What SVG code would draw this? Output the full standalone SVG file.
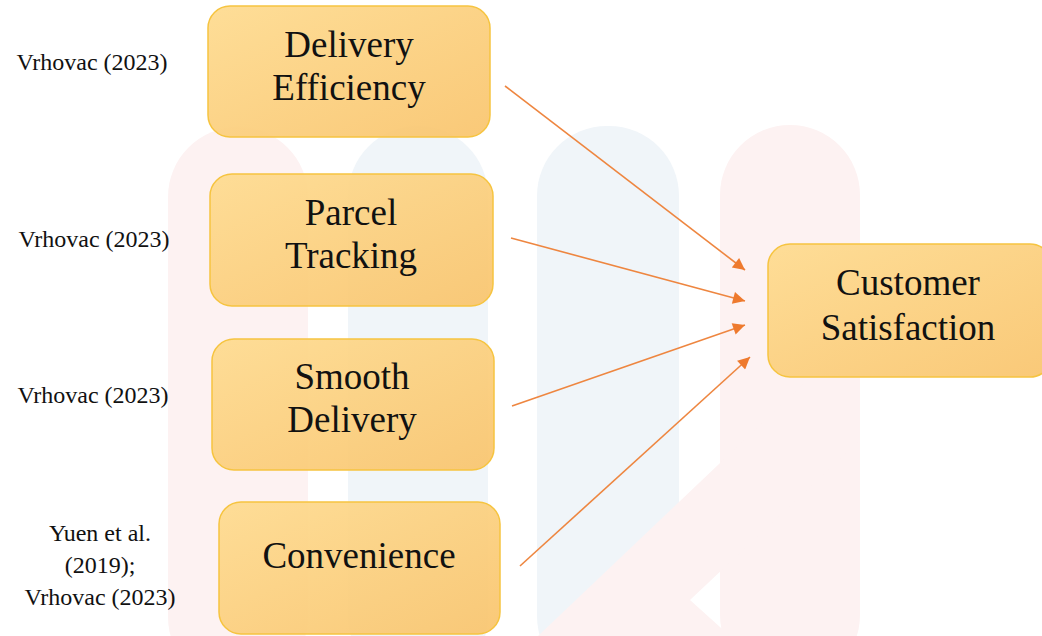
<svg xmlns="http://www.w3.org/2000/svg" width="1042" height="636" viewBox="0 0 1042 636">
<style>
.box{fill:url(#g);stroke:#f6c440;stroke-width:1.5}
.t{font-size:37px;fill:#111;text-anchor:middle}
.r{font-size:24px;fill:#111;text-anchor:middle}
.e{fill:none;stroke:#ee8640;stroke-width:1.6}
.wr{fill:#fdf2f2}
.wb{fill:#f0f5f9}
</style>
<defs>
<linearGradient id="g" x1="0" y1="0" x2="1" y2="1">
<stop offset="0" stop-color="#fedc92" stop-opacity="0.95"/>
<stop offset="1" stop-color="#f9c46c" stop-opacity="0.92"/>
</linearGradient>
<marker id="a" viewBox="0 0 10 10" refX="10" refY="5" markerWidth="14" markerHeight="12" markerUnits="userSpaceOnUse" orient="auto">
<path d="M0,0 L10,5 L0,10 z" fill="#ee7a2e"/>
</marker>
</defs>
<rect width="1042" height="636" fill="#fff"/>
<g id="watermark">
<rect class="wr" x="168" y="127" width="140" height="560" rx="70"/>
<rect class="wb" x="348" y="126" width="140" height="560" rx="70"/>
<rect class="wb" x="537" y="126" width="142" height="560" rx="70"/>
<rect class="wr" x="720" y="125" width="140" height="560" rx="70"/>
<path class="wr" d="M538,636 L860,330 L860,440 L690,600 L730,636 Z"/>
</g>
<g id="connectors">
<line class="e" x1="505" y1="86" x2="745" y2="270" marker-end="url(#a)"/>
<line class="e" x1="511" y1="238" x2="745" y2="301" marker-end="url(#a)"/>
<line class="e" x1="512" y1="406" x2="745" y2="325" marker-end="url(#a)"/>
<line class="e" x1="520" y1="566" x2="750" y2="357" marker-end="url(#a)"/>
</g>
<g font-family="Liberation Serif, Times New Roman, serif">
<g id="n1">
<rect class="box" x="208" y="6" width="282" height="131" rx="22"/>
<text class="t" x="349" y="57">Delivery</text>
<text class="t" x="349" y="100">Efficiency</text>
</g>
<g id="n2">
<rect class="box" x="210" y="174" width="283" height="132" rx="22"/>
<text class="t" x="351" y="225">Parcel</text>
<text class="t" x="351" y="268">Tracking</text>
</g>
<g id="n3">
<rect class="box" x="212" y="339" width="282" height="131" rx="22"/>
<text class="t" x="352" y="389">Smooth</text>
<text class="t" x="352" y="432">Delivery</text>
</g>
<g id="n4">
<rect class="box" x="219" y="502" width="281" height="132" rx="22"/>
<text class="t" x="359" y="568">Convenience</text>
</g>
<g id="n5">
<rect class="box" x="768" y="244" width="284" height="133" rx="22"/>
<text class="t" x="908" y="295">Customer</text>
<text class="t" x="908" y="340">Satisfaction</text>
</g>
<g id="refs">
<text class="r" x="92" y="70">Vrhovac (2023)</text>
<text class="r" x="94" y="247">Vrhovac (2023)</text>
<text class="r" x="93" y="403">Vrhovac (2023)</text>
<text class="r" x="100" y="541">Yuen et al.</text>
<text class="r" x="100" y="573">(2019);</text>
<text class="r" x="100" y="605">Vrhovac (2023)</text>
</g>
</g>
</svg>
